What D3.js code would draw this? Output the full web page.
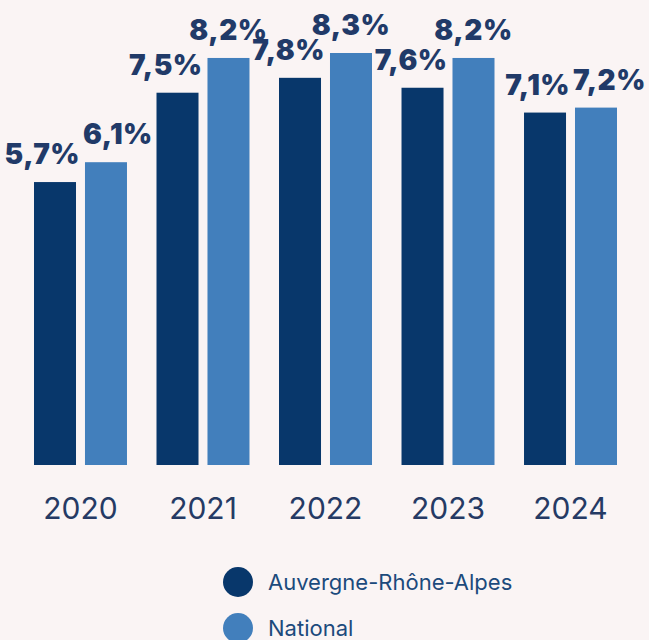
<!DOCTYPE html>
<html><head><meta charset="utf-8">
<script src="https://cdn.jsdelivr.net/npm/d3@7"></script>
<style>
html,body{margin:0;padding:0;background:#faf4f4;}
svg{display:block;}
</style></head>
<body>
<script>
const years = ["2020","2021","2022","2023","2024"];
const seriesNames = ["Auvergne-Rhône-Alpes","National"];
const regionValues = [5.7, 7.5, 7.8, 7.6, 7.1];
const nationalValues = [6.1, 8.2, 8.3, 8.2, 7.2];
const colors = ["#08376b", "#427fbc"];

const W = 649, H = 640;
const svg = d3.select("body").append("svg").attr("width", W).attr("height", H);
svg.append("rect").attr("width", W).attr("height", H).attr("fill", "#faf4f4");

const x0 = d3.scaleBand().domain(years).range([34, 617]).paddingInner(0.241).paddingOuter(0);
const x1 = d3.scaleBand().domain(seriesNames).range([0, x0.bandwidth()]).paddingInner(0.176);
const y = d3.scaleLinear().domain([0, 8.3]).range([465, 53]);

const data = years.map((yr, i) => ({year: yr, vals: [regionValues[i], nationalValues[i]]}));

const g = svg.append("g");
const groups = g.selectAll("g.grp").data(data).join("g").attr("class","grp")
  .attr("transform", d => `translate(${x0(d.year)},0)`);

groups.selectAll("rect").data(d => d.vals.map((v, j) => ({v, j})))
  .join("rect")
  .attr("x", d => x1(seriesNames[d.j]))
  .attr("width", x1.bandwidth())
  .attr("y", d => y(d.v))
  .attr("height", d => y(0) - y(d.v))
  .attr("fill", d => colors[d.j]);

const labelGap = 18, capH = 21;
groups.each(function(d) {
  const grp = d3.select(this);
  const fmt = v => v.toFixed(1).replace(".", ",") + "%";
  const mk = (v) => grp.append("text")
    .attr("font-family", "Inter, 'Open Sans', sans-serif")
    .attr("font-weight", 900)
    .attr("font-size", 28)
    .attr("letter-spacing", "0.5px")
    .attr("fill", "#213a68")
    .attr("y", y(v) - labelGap)
    .text(fmt(v));
  // region label: right edge near the dark bar's right edge
  const t0 = mk(d.vals[0]);
  const w0 = t0.node().getComputedTextLength();
  const right0 = x1(seriesNames[0]) + x1.bandwidth() + 4;
  t0.attr("x", right0 - w0);
  // national label: centered on its bar, pushed right if it collides with the region label
  const t1 = mk(d.vals[1]);
  const w1 = t1.node().getComputedTextLength();
  let left1 = x1(seriesNames[1]) + x1.bandwidth() / 2 - w1 / 2;
  const b0 = y(d.vals[0]) - labelGap, b1 = y(d.vals[1]) - labelGap;
  const vOverlap = Math.abs(b0 - b1) < capH + 3;
  if (vOverlap && left1 < right0 + 3) left1 = right0 + 3;
  t1.attr("x", left1);
});

// x axis labels
const xAxis = d3.axisBottom(x0).tickSize(0).tickPadding(0);
const ax = svg.append("g").attr("transform", "translate(0,498)").call(xAxis);
ax.select(".domain").remove();
ax.selectAll("text")
  .attr("dy", "0.71em")
  .attr("font-family", "Inter, 'Open Sans', sans-serif")
  .attr("font-weight", 400)
  .attr("font-size", 30)
  .attr("fill", "#253a64");

// legend
const leg = svg.append("g");
const legItems = leg.selectAll("g").data(seriesNames).join("g")
  .attr("transform", (d, i) => `translate(238,${582 + i * 46})`);
legItems.append("circle").attr("r", 15).attr("fill", (d, i) => colors[i]);
legItems.append("text")
  .attr("x", 30).attr("y", 0).attr("dy", "0.36em")
  .attr("font-family", "Inter, 'Open Sans', sans-serif")
  .attr("font-size", 22)
  .attr("fill", "#1c4a7c")
  .text(d => d);
</script>
</body></html>
